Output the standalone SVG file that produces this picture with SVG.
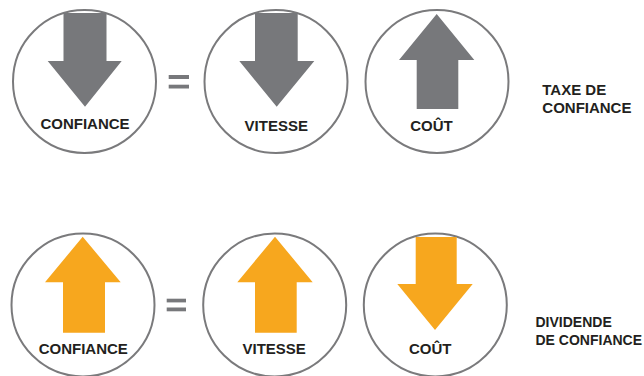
<svg xmlns="http://www.w3.org/2000/svg" width="644" height="376" viewBox="0 0 644 376">
<style>
.ring{fill:#fff;stroke:#7a7a7c;stroke-width:2}
.gray{fill:#77787b}
.orange{fill:#f7a71e}
.lbl{font-family:"Liberation Sans",Arial,sans-serif;font-weight:bold;font-size:15px;fill:#231f20}
.mid{text-anchor:middle}
.sm{font-size:14px}
</style>
<rect width="644" height="376" fill="#fff"/>
<g id="row1">
<g id="confiance-down">
<circle class="ring" cx="84.5" cy="81.5" r="71.5"/>
<path class="gray" d="M63.5,13 H106.5 V61 H121.7 L85,106.7 L47.7,61 H63.5 Z"/>
<text class="lbl mid" x="85" y="129">CONFIANCE</text>
</g>
<g id="vitesse-down">
<circle class="ring" cx="276" cy="81.5" r="71.5"/>
<path class="gray" d="M255,13 H297.7 V61 H314.3 L276.7,106.7 L239.3,61 H255 Z"/>
<text class="lbl mid" x="276.3" y="130.5">VITESSE</text>
</g>
<g id="cout-up">
<circle class="ring" cx="437" cy="81.5" r="71.5"/>
<path class="gray" d="M436.7,14 L474.3,60 H458.3 V109 H416.7 V60 H399 Z"/>
<text class="lbl mid" x="431.5" y="131">COÛT</text>
</g>
<g id="taxe">
<text class="lbl" x="542.3" y="95">TAXE DE</text>
<text class="lbl" x="542.3" y="112.7">CONFIANCE</text>
</g>
</g>
<g id="row2">
<g id="confiance-up">
<circle class="ring" cx="83" cy="305" r="71.5"/>
<path class="orange" d="M82.7,236.7 L120.7,282.3 H105 V332.7 H63 V282.3 H45 Z"/>
<text class="lbl mid" x="83.3" y="354">CONFIANCE</text>
</g>
<g id="vitesse-up">
<circle class="ring" cx="274.7" cy="305" r="71.5"/>
<path class="orange" d="M275,236.7 L312.7,282.3 H296.7 V332.7 H255 V282.3 H237.3 Z"/>
<text class="lbl mid" x="274.2" y="354">VITESSE</text>
</g>
<g id="cout-down">
<circle class="ring" cx="435.3" cy="305" r="71.5"/>
<path class="orange" d="M415.7,237 H456.7 V284 H472.7 L435,330 L397.3,284 H415.7 Z"/>
<text class="lbl mid" x="430.2" y="354">COÛT</text>
</g>
<g id="dividende">
<text class="lbl sm" x="535.5" y="327.3">DIVIDENDE</text>
<text class="lbl sm" x="535.5" y="345">DE CONFIANCE</text>
</g>
</g>
<g id="connectors">
<rect class="gray" x="168.7" y="75" width="20.3" height="4"/>
<rect class="gray" x="168.7" y="84.7" width="20.3" height="3.8"/>
<rect class="gray" x="166.7" y="298.7" width="19.3" height="3.7"/>
<rect class="gray" x="166.7" y="307.5" width="19.3" height="3.8"/>
</g>
</svg>
